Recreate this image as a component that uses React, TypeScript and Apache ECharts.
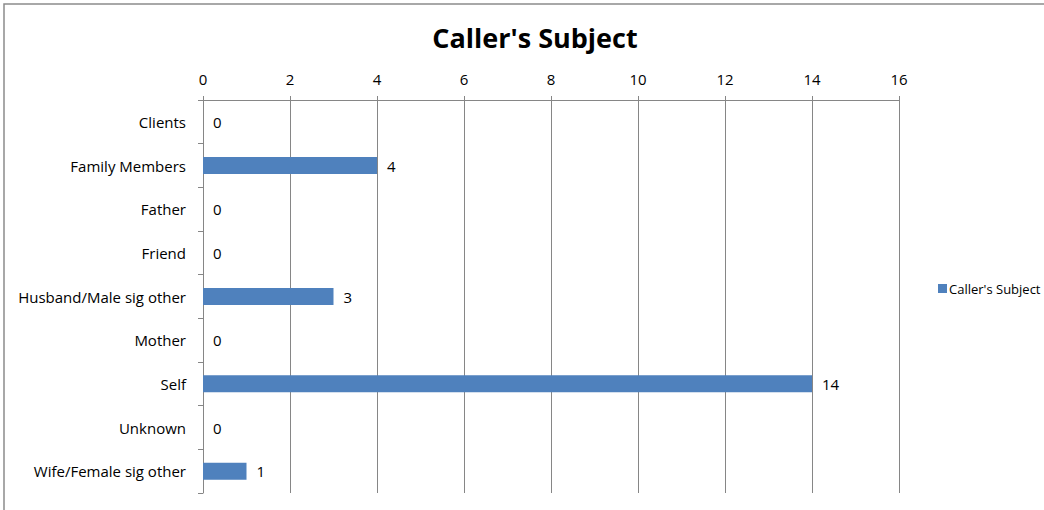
import React, { useEffect, useRef } from "react";
import * as echarts from "echarts";

const categories = [
  "Clients",
  "Family Members",
  "Father",
  "Friend",
  "Husband/Male sig other",
  "Mother",
  "Self",
  "Unknown",
  "Wife/Female sig other",
];
const values = [0, 4, 0, 0, 3, 0, 14, 0, 1];
const seriesName = "Caller's Subject";
const titleText = "Caller's Subject";

const FONT = "'Open Sans', 'Noto Sans', sans-serif";

export default function App() {
  const ref = useRef<HTMLDivElement>(null);
  useEffect(() => {
    document.body.style.margin = "0";
    const chart = echarts.init(ref.current!, null, { renderer: "svg" });
    chart.setOption({
      animation: false,
      backgroundColor: "#fff",
      title: {
        text: titleText,
        left: 530,
        textAlign: "center",
        top: 19,
        textStyle: { fontSize: 27, fontWeight: "bold", color: "#000", fontFamily: FONT },
      },
      legend: {
        data: [seriesName],
        left: 933,
        top: 277,
        itemWidth: 9,
        itemHeight: 9,
        itemGap: 4,
        icon: "rect",
        textStyle: { fontSize: 13, color: "#000", fontFamily: FONT, padding: [0, 0, 0, -3] },
      },
      graphic: [
        {
          type: "rect",
          shape: { x: 4, y: 4, width: 1100, height: 600 },
          style: { fill: "none", stroke: "#8c8c8c", lineWidth: 1.5 },
          silent: true,
        },
      ],
      grid: { left: 203, right: 145, top: 100, bottom: 17, containLabel: false },
      xAxis: {
        type: "value",
        position: "top",
        min: 0,
        max: 16,
        interval: 2,
        axisLine: { show: true, lineStyle: { color: "#868686" } },
        axisTick: { show: true, length: 4, lineStyle: { color: "#868686" } },
        axisLabel: { margin: 14, fontSize: 15, color: "#000", fontFamily: FONT },
        splitLine: { show: true, lineStyle: { color: "#868686", width: 1 } },
      },
      yAxis: {
        type: "category",
        data: categories,
        inverse: true,
        axisLine: { show: true, lineStyle: { color: "#868686" } },
        axisTick: { show: true, length: 5, lineStyle: { color: "#868686" } },
        axisLabel: { margin: 17, fontSize: 15, color: "#000", fontFamily: FONT },
      },
      series: [
        {
          name: seriesName,
          type: "bar",
          data: values,
          barWidth: 17,
          itemStyle: { color: "#4F81BD", borderWidth: 0 },
          label: {
            show: true,
            position: "right",
            distance: 10,
            fontSize: 15,
            color: "#000",
            fontFamily: FONT,
          },
        },
      ],
    });
    return () => chart.dispose();
  }, []);
  return <div ref={ref} style={{ width: 1044, height: 510 }} />;
}
